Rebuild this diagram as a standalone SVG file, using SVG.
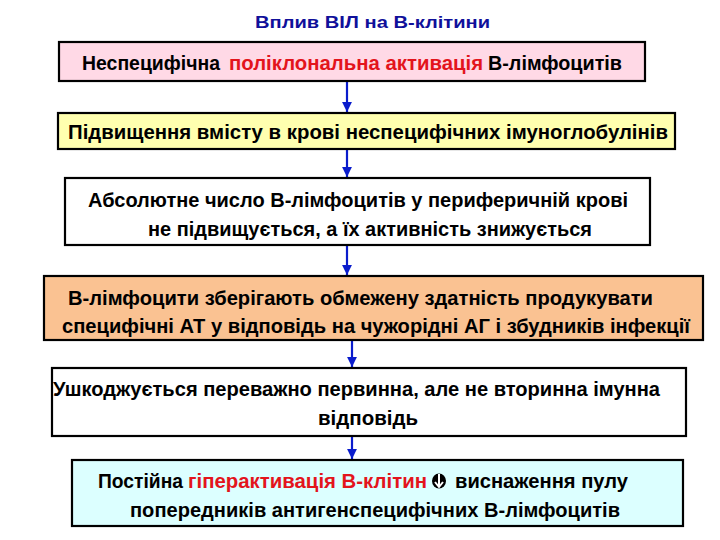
<svg xmlns="http://www.w3.org/2000/svg" width="720" height="540" viewBox="0 0 720 540">
<style>
.box{stroke:#000;stroke-width:2.2}
.t{font-family:"Liberation Sans",Arial,sans-serif;font-weight:bold;font-size:20px;fill:#000}
.r{fill:#e3141c}
.title{font-family:"Liberation Sans",Arial,sans-serif;font-weight:bold;font-size:17px;fill:#10109a}
.conn{stroke:#0a1ccc;stroke-width:2.2;fill:none}
</style>
<defs>
<marker id="ah" viewBox="0 0 10 10" refX="10" refY="5" markerWidth="4.5" markerHeight="4.5" orient="auto" markerUnits="strokeWidth">
<path d="M0,0 L10,5 L0,10 z" fill="#0a1ccc"/>
</marker>
</defs>
<rect width="720" height="540" fill="#fff"/>
<text class="title" x="255" y="28" textLength="235" lengthAdjust="spacingAndGlyphs">Вплив ВІЛ на В-клітини</text>

<g id="connectors">
<line class="conn" x1="347" y1="82" x2="347" y2="112" marker-end="url(#ah)"/>
<line class="conn" x1="347" y1="150" x2="347" y2="177" marker-end="url(#ah)"/>
<line class="conn" x1="347" y1="246" x2="347" y2="275" marker-end="url(#ah)"/>
<line class="conn" x1="352" y1="341" x2="352" y2="367" marker-end="url(#ah)"/>
<line class="conn" x1="352" y1="437" x2="352" y2="459" marker-end="url(#ah)"/>
</g>

<g id="n1">
<rect class="box" x="59" y="42" width="586" height="39" fill="#ffd9e6"/>
<text class="t" y="70"><tspan x="82" textLength="138" lengthAdjust="spacingAndGlyphs">Неспецифічна</tspan><tspan class="r" x="229" textLength="254" lengthAdjust="spacingAndGlyphs">поліклональна активація</tspan><tspan x="488" textLength="134" lengthAdjust="spacingAndGlyphs">В-лімфоцитів</tspan></text>
</g>

<g id="n2">
<rect class="box" x="58" y="113" width="617" height="36" fill="#ffffaf"/>
<text class="t" x="68" y="139" textLength="600" lengthAdjust="spacingAndGlyphs">Підвищення вмісту в крові неспецифічних імуноглобулінів</text>
</g>

<g id="n3">
<rect class="box" x="65" y="178" width="585" height="67" fill="#ffffff"/>
<text class="t" x="88" y="207" textLength="540" lengthAdjust="spacingAndGlyphs">Абсолютне число В-лімфоцитів у периферичній крові</text>
<text class="t" x="148" y="236" textLength="444" lengthAdjust="spacingAndGlyphs">не підвищується, а їх активність знижується</text>
</g>

<g id="n4">
<rect class="box" x="44" y="276" width="659" height="64" fill="#fac292"/>
<text class="t" x="68" y="305" textLength="585" lengthAdjust="spacingAndGlyphs">В-лімфоцити зберігають обмежену здатність продукувати</text>
<text class="t" x="62" y="333" textLength="628" lengthAdjust="spacingAndGlyphs">специфічні АТ у відповідь на чужорідні АГ і збудників інфекції</text>
</g>

<g id="n5">
<rect class="box" x="52" y="368" width="634" height="68" fill="#ffffff"/>
<text class="t" x="53" y="396" textLength="607" lengthAdjust="spacingAndGlyphs">Ушкоджується переважно первинна, але не вторинна імунна</text>
<text class="t" x="318" y="425" textLength="100" lengthAdjust="spacingAndGlyphs">відповідь</text>
</g>

<g id="n6">
<rect class="box" x="72" y="460" width="611" height="66" fill="#dcffff"/>
<text class="t" y="488"><tspan x="98" textLength="85" lengthAdjust="spacingAndGlyphs">Постійна</tspan><tspan class="r" x="188" textLength="239" lengthAdjust="spacingAndGlyphs">гіперактивація В-клітин</tspan><tspan x="455" textLength="173" lengthAdjust="spacingAndGlyphs">виснаження пулу</tspan></text>
<ellipse cx="439" cy="481" rx="7" ry="7.5" fill="#000"/>
<path d="M439,474 L439,486 M435,482 L439,487 L443,482" stroke="#fff" stroke-width="2" fill="none"/>
<text class="t" x="130" y="517" textLength="490" lengthAdjust="spacingAndGlyphs">попередників антигенспецифічних В-лімфоцитів</text>
</g>
</svg>
